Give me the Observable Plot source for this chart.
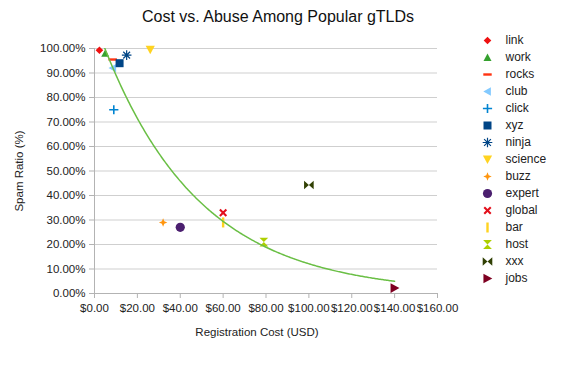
<!DOCTYPE html>
<html><head><meta charset="utf-8">
<script src="https://cdn.jsdelivr.net/npm/d3@7"></script>
<script src="https://cdn.jsdelivr.net/npm/@observablehq/plot@0.6"></script>
<style>
body{margin:0;background:#fff;font-family:"Liberation Sans",Arial,sans-serif;}
#wrap{position:relative;width:569px;height:365px;overflow:hidden;background:#fff;}
#title{position:absolute;left:0;top:0;width:556px;text-align:center;font-size:16px;line-height:34px;color:#111;}
#chart{position:absolute;left:0;top:0;}
#legend{position:absolute;left:460px;top:0;}
</style></head><body>
<div id="wrap"><div id="chart"></div><div id="title">Cost vs. Abuse Among Popular gTLDs</div><div id="legend"></div></div>
<script>
// ---- data ----
const tlds   = ["link","work","rocks","club","click","xyz","ninja","science","buzz","expert","global","bar","host","xxx","jobs"];
const cost   = [2.3, 5, 8.5, 8.5, 9, 11.7, 15, 26, 32, 40, 60, 60, 79, 100, 140];
const spam   = [99.3, 98, 95.5, 92, 75, 94, 97.3, 99.5, 29, 27, 33, 29, 21, 44.3, 2.2];
const colors = ["#ee1111","#35a12e","#ff3311","#83caff","#0084d1","#004586","#004586","#ffd320","#ff950e","#4b1f6f","#e3101c","#ffd320","#aecf00","#314004","#7e0021"];
const xTicks = [0,20,40,60,80,100,120,140,160];
const yTicks = [0,10,20,30,40,50,60,70,80,90,100];
const xTitle = "Registration Cost (USD)";
const yTitle = "Spam Ratio (%)";

const rows = tlds.map((name,i)=>({name, cost:cost[i], spam:spam[i]}));

// ---- custom marker shapes ----
function poly(ctx, pts){ ctx.moveTo(pts[0][0],pts[0][1]); for(let i=1;i<pts.length;i++) ctx.lineTo(pts[i][0],pts[i][1]); ctx.closePath(); }
function bar(ctx, len, t, ang){
  const c=Math.cos(ang), s=Math.sin(ang);
  poly(ctx, [[-len,-t],[len,-t],[len,t],[-len,t]].map(([x,y])=>[x*c-y*s, x*s+y*c]));
}
const S = f => ({draw(ctx,size){ const h=Math.sqrt(size/Math.PI); f(ctx,h); }});
const symbols = [
  S((c,h)=>{const k=h*0.95; poly(c,[[0,-k],[k,0],[0,k],[-k,0]]);}),
  S((c,h)=>{poly(c,[[0,-h],[h,h*0.85],[-h,h*0.85]]);}),
  S((c,h)=>{bar(c,h*1.05,h*0.3,0);}),
  S((c,h)=>{poly(c,[[-h*1.05,0],[h*0.85,-h*1.05],[h*0.85,h*1.05]]);}),
  S((c,h)=>{const k=h*1.15; bar(c,k,h*0.2,0); bar(c,k,h*0.2,Math.PI/2);}),
  S((c,h)=>{const k=h*1.0; poly(c,[[-k,-k],[k,-k],[k,k],[-k,k]]);}),
  S((c,h)=>{const k=h*1.2; for(let i=0;i<4;i++) bar(c,k,h*0.15,i*Math.PI/4);}),
  S((c,h)=>{const k=h*1.15; poly(c,[[-k,-k*0.85],[k,-k*0.85],[0,k]]);}),
  S((c,h)=>{const k=h*1.05,t=h*0.3; poly(c,[[0,-k],[t,-t],[k,0],[t,t],[0,k],[-t,t],[-k,0],[-t,-t]]);}),
  S((c,h)=>{const k=h*1.15; c.moveTo(k,0); c.arc(0,0,k,0,2*Math.PI); c.closePath();}),
  S((c,h)=>{const k=h*1.15; bar(c,k,h*0.26,Math.PI/4); bar(c,k,h*0.26,3*Math.PI/4);}),
  S((c,h)=>{bar(c,h*1.25,h*0.3,Math.PI/2);}),
  S((c,h)=>{const k=h*1.1; poly(c,[[-k,-k],[k,-k],[0,0]]); poly(c,[[0,0],[k,k],[-k,k]]);}),
  S((c,h)=>{const k=h*1.2; poly(c,[[-k,-k*0.9],[0,0],[-k,k*0.9]]); poly(c,[[k,-k*0.9],[k,k*0.9],[0,0]]);}),
  S((c,h)=>{const k=h*1.2; poly(c,[[k,0],[-k*0.85,-k],[-k*0.85,k]]);})
];

// ---- exponential trend line (least squares on ln y) ----
const ly = spam.map(Math.log);
const mx = d3.mean(cost), my = d3.mean(ly);
const b = d3.sum(cost,(x,i)=>(x-mx)*(ly[i]-my)) / d3.sum(cost,x=>(x-mx)**2);
const a = Math.exp(my - b*mx);
const xs = d3.range(d3.min(cost), d3.max(cost), 0.5).concat([d3.max(cost)]);
const trend = xs.map(x=>({x, y:a*Math.exp(b*x)}));

const font = {fontFamily:"Liberation Sans, Arial, sans-serif", fontSize:"11.5px", color:"#222", background:"white"};

const chart = Plot.plot({
  width:460, height:345,
  marginTop:48, marginLeft:94, marginRight:23, marginBottom:52,
  style: font,
  x:{domain:[0,160]},
  y:{domain:[0,100]},
  color:{domain:tlds, range:colors},
  symbol:{domain:tlds, range:symbols},
  marks:[
    Plot.gridY(yTicks, {stroke:"#cfcfcf", strokeOpacity:1}),
    Plot.ruleX([0], {stroke:"#b3b3b3"}),
    Plot.ruleY([0], {stroke:"#b3b3b3"}),
    Plot.axisX(xTicks, {tickFormat:d=>"$"+d.toFixed(2), tickSize:5, tickPadding:5, stroke:"#b3b3b3", fill:"#222", label:null}),
    Plot.text([xTitle], {text:d=>d, frameAnchor:"bottom", dy:42, dx:-9, fill:"#222"}),
    Plot.axisY(yTicks, {tickFormat:d=>d.toFixed(2)+"%", tickSize:5, tickPadding:4, stroke:"#b3b3b3", fill:"#222",
      label:yTitle, labelAnchor:"center", labelOffset:80, labelArrow:"none"}),
    Plot.dot(rows, {x:"cost", y:"spam", fill:"name", symbol:"name", r:4}),
    Plot.line(trend, {x:"x", y:"y", stroke:"#6abf45", strokeWidth:1.5, clip:true})
  ]
});
document.getElementById("chart").appendChild(chart);

const legend = Plot.plot({
  width:109, height:300,
  marginTop:39, marginBottom:22, marginLeft:27, marginRight:0,
  style:{...font, fontSize:"12px"},
  x:{axis:null},
  y:{type:"point", domain:tlds, axis:null, padding:0},
  color:{domain:tlds, range:colors},
  symbol:{domain:tlds, range:symbols},
  marks:[
    Plot.dot(rows, {y:"name", fill:"name", symbol:"name", r:4, frameAnchor:"left"}),
    Plot.text(rows, {y:"name", text:"name", frameAnchor:"left", dx:18, textAnchor:"start", fill:"#222"})
  ]
});
document.getElementById("legend").appendChild(legend);
</script>
</body></html>
